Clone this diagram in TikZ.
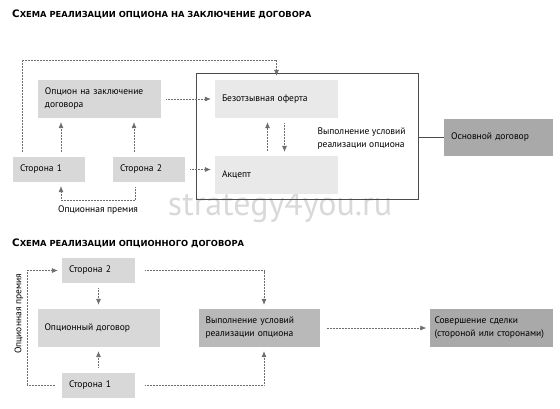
\documentclass[tikz,border=0pt]{standalone}
\usepackage{fontspec}
\setmainfont{PT Sans}
\newfontfamily\headfont{DejaVu Sans}
\usetikzlibrary{arrows.meta}
\definecolor{sidegray}{HTML}{D8D8D8}
\definecolor{palegray}{HTML}{E9E9E9}
\definecolor{midgray}{HTML}{B9B9B9}
\definecolor{deepgray}{HTML}{A9A9A9}
\definecolor{linegray}{HTML}{6E6E6E}
\newcommand{\headcaps}[2]{{\fontsize{10.3}{10}\selectfont #1}{\fontsize{8.35}{8}\selectfont #2}}
\tikzstyle{side} = [fill=sidegray, minimum height=25pt, inner xsep=7pt, inner ysep=0pt,
    text width=58pt, align=left]
\tikzstyle{block} = [fill=sidegray, minimum height=38pt, inner xsep=7pt, inner ysep=0pt,
    text width=109pt, align=left]
\tikzstyle{offerblock} = [block, fill=palegray]
\tikzstyle{result} = [block, fill=deepgray]
\tikzstyle{frame} = [draw=black!70, line width=0.8pt, minimum width=222pt, minimum height=126pt]
\tikzstyle{title} = [anchor=west, inner sep=0pt, font=\headfont\bfseries]
\tikzstyle{watermark} = [text=black!15, font=\fontsize{34}{34}\selectfont]
\tikzstyle{link} = [->, densely dotted, draw=linegray, line width=0.5pt, shorten <=5pt, shorten >=4pt]
\tikzstyle{joint} = [draw=black!70, line width=0.6pt]

\begin{document}
\begin{tikzpicture}[x=1pt, y=-1pt, auto, node distance=100pt,
    >={Latex[length=6pt,width=5pt]}, font=\fontsize{9.5}{13}\selectfont]
    \useasboundingbox (0,0) rectangle (560,408);
    \node [watermark] (site) at (280,207) {strategy4you.ru};
    % upper scheme
    \node [title] (head1) at (12,14) {\headcaps{С}{ХЕМА РЕАЛИЗАЦИИ ОПЦИОНА НА ЗАКЛЮЧЕНИЕ ДОГОВОРА}};
    \node [frame] (frame) at (307,136) {};
    \node [side] (side1) at (49,169.5) {Сторона 1};
    \node [side, right of=side1] (side2) {Сторона 2};
    \node [block] (option) at (99.5,99) {Опцион на заключение\\договора};
    \node [offerblock, right of=option, node distance=177pt] (offer) {Безотзывная оферта};
    \node [offerblock, below of=offer, node distance=76pt] (accept) {Акцепт};
    \node [result, text width=95pt, minimum height=37pt] (main) at (498.5,137.5) {Основной договор};
    \node [anchor=west, align=left] (terms) at (314,138.5) {Выполнение условий\\реализации опциона};
    \draw [link] (option) -- (offer);
    \draw [link] (side2) -- (side2 -| accept.west);
    \draw [link] ([xshift=12pt]side1.north) -- ([xshift=12pt]side1.north |- option.south);
    \draw [link] ([xshift=-15pt]side2.north) -- ([xshift=-15pt]side2.north |- option.south);
    \draw [link] ([xshift=-14pt]side2.south) -- ++(0,18) -| node [pos=0.25, below, yshift=-2pt] {Опционная премия} ([xshift=12pt]side1.south);
    \draw [link] ([xshift=-27pt]side1.north) -- ++(0,-97) -| (offer.north);
    \draw [link] ([xshift=-9pt]accept.north) -- ([xshift=-9pt]offer.south);
    \draw [link] ([xshift=8pt]offer.south) -- ([xshift=8pt]accept.north);
    \draw [joint] (frame.east |- main) -- (main);
    % lower scheme
    \node [title] (head2) at (12,243) {\headcaps{С}{ХЕМА РЕАЛИЗАЦИИ ОПЦИОННОГО ДОГОВОРА}};
    \node [side, text width=59pt] (party2) at (98.5,270.5) {Сторона 2};
    \node [block, text width=108pt, below of=party2, node distance=57.5pt] (contract) {Опционный договор};
    \node [side, text width=59pt, below of=contract, node distance=57pt] (party1) {Сторона 1};
    \node [result, fill=midgray, text width=107pt, right of=contract, node distance=160.5pt] (exec) {Выполнение условий\\реализации опциона};
    \node [result, inner xsep=5pt, text width=113pt, right of=exec, node distance=232pt] (deal) {Совершение сделки\\(стороной или сторонами)};
    \draw [link] (party2) -- (contract);
    \draw [link] (party1) -- (contract);
    \draw [link, shorten <=10pt] (party2.east) -| ([xshift=5pt]exec.north);
    \draw [link, shorten <=10pt] (party1.east) -| ([xshift=5pt]exec.south);
    \draw [link, shorten <=7pt, shorten >=3pt] (exec) -- (deal);
    \draw [link, shorten <=7pt] (party1.west) -- ++(-35,0) |- node [pos=0.31, above, rotate=90] {Опционная премия} (party2.west);
\end{tikzpicture}
\end{document}
